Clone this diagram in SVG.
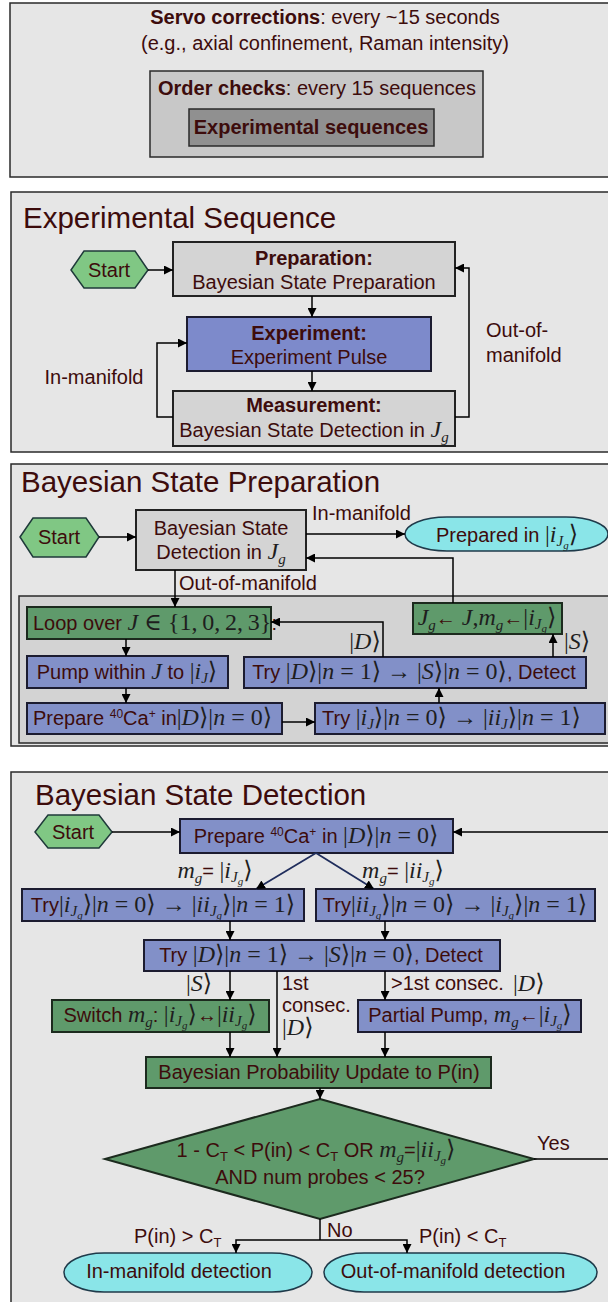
<svg xmlns="http://www.w3.org/2000/svg" width="608" height="1302" viewBox="0 0 608 1302">
<style>
.panel{fill:#e6e6e6;stroke:#2a2a2a;stroke-width:1.5}
.inner{fill:#d3d3d3;stroke:#2a2a2a;stroke-width:1.5}
.gray{fill:#d4d4d4;stroke:#222;stroke-width:2}
.blue{fill:#8290c8;stroke:#1c1c30;stroke-width:2}
.blue2{fill:#7d8acb;stroke:#1c1c30;stroke-width:2}
.green{fill:#5f9a6b;stroke:#1c2a1e;stroke-width:2}
.start{fill:#80c784;stroke:#1f3a3a;stroke-width:1.5}
.cyan{fill:#8ae5e8;stroke:#1f3a4a;stroke-width:1.5}
.t{font-family:"Liberation Sans",Arial,sans-serif;font-size:20px;fill:#3d0c0c}
.ttl{font-family:"Liberation Sans",Arial,sans-serif;font-size:29.5px;fill:#3d0c0c}
.b{font-weight:bold}
.m{font-family:"Liberation Serif","DejaVu Serif",serif;font-style:italic;font-size:24px;fill:#1e1e1e}
.mu{font-family:"Liberation Serif","DejaVu Serif",serif;font-style:normal;font-size:24px;fill:#1e1e1e}
.s1{font-size:15px}
.s2{font-size:11px}
.sup{font-size:12px}
.c{stroke:#000;stroke-width:1.5;fill:none}
.d{stroke:#1f2d5c;stroke-width:1.8;fill:none}
</style>
<defs>
<marker id="ah" viewBox="0 0 10 10" refX="10" refY="5" markerWidth="9" markerHeight="9" markerUnits="userSpaceOnUse" orient="auto"><path d="M0,0 L10,5 L0,10 z" fill="#000"/></marker>
</defs>

<!-- Panel 1 -->
<g id="panel-servo">
<rect class="panel" x="10" y="3" width="620" height="174"/>
<text class="t" x="325" y="24" text-anchor="middle"><tspan class="b">Servo corrections</tspan>: every ~15 seconds</text>
<text class="t" x="325" y="50" text-anchor="middle">(e.g., axial confinement, Raman intensity)</text>
</g>
<g id="panel-order">
<rect x="150" y="71" width="333" height="86" fill="#c8c8c8" stroke="#2a2a2a" stroke-width="1.5"/>
<text class="t" x="317" y="95" text-anchor="middle"><tspan class="b">Order checks</tspan>: every 15 sequences</text>
</g>
<g id="node-expseq">
<rect x="189" y="109" width="245" height="37" fill="#909090" stroke="#2a2a2a" stroke-width="1.5"/>
<text class="t b" x="311" y="134" text-anchor="middle">Experimental sequences</text>
</g>

<!-- Panel 2 -->
<g id="panel-expseq">
<rect class="panel" x="11" y="192" width="620" height="260"/>
<text class="ttl" x="23" y="228">Experimental Sequence</text>
</g>
<g id="es-start">
<polygon class="start" points="71,270 84,251 135,251 148,270 135,288 84,288"/>
<text class="t" x="109" y="277" text-anchor="middle">Start</text>
</g>
<g id="es-prep">
<rect class="gray" x="173" y="242" width="282" height="54"/>
<text class="t b" x="314" y="265" text-anchor="middle">Preparation:</text>
<text class="t" x="314" y="289" text-anchor="middle">Bayesian State Preparation</text>
</g>
<g id="es-exp">
<rect class="blue2" x="187" y="317" width="244" height="54"/>
<text class="t b" x="309" y="340" text-anchor="middle">Experiment:</text>
<text class="t" x="309" y="364" text-anchor="middle">Experiment Pulse</text>
</g>
<g id="es-meas">
<rect class="gray" x="173" y="391" width="282" height="55"/>
<text class="t b" x="314" y="412" text-anchor="middle">Measurement:</text>
<text class="t" x="314" y="437" text-anchor="middle">Bayesian State Detection in <tspan class="m">J</tspan><tspan class="m s1" dy="5">g</tspan></text>
</g>

<!-- Panel 3 -->
<g id="panel-prep">
<rect class="panel" x="11" y="464" width="620" height="282"/>
<text class="ttl" x="21" y="492">Bayesian State Preparation</text>
<rect class="inner" x="19" y="596" width="610" height="147"/>
</g>
<g id="bp-start">
<polygon class="start" points="20,537 33,518 86,518 99,537 86,557 33,557"/>
<text class="t" x="59" y="544" text-anchor="middle">Start</text>
</g>
<g id="bp-detect">
<rect class="gray" x="136" y="510" width="170" height="60"/>
<text class="t" x="221" y="535" text-anchor="middle">Bayesian State</text>
<text class="t" x="221" y="559" text-anchor="middle">Detection in <tspan class="m">J</tspan><tspan class="m s1" dy="5">g</tspan></text>
</g>
<g id="bp-prepared">
<rect class="cyan" x="405" y="517" width="203" height="34" rx="42" ry="17"/>
<text class="t" x="507" y="542" text-anchor="middle">Prepared in <tspan class="mu">|</tspan><tspan class="m">i</tspan><tspan class="m s1" dy="4">J</tspan><tspan class="m s2" dy="3">g</tspan><tspan class="mu" dy="-7">⟩</tspan></text>
</g>
<g id="bp-loop">
<rect class="green" x="27" y="607" width="244" height="32"/>
<text class="t" x="33" y="630">Loop over  <tspan class="m">J</tspan><tspan class="mu"> ∈ {1,&#8201;0,&#8201;2,&#8201;3}</tspan>:</text>
</g>
<g id="bp-pump">
<rect class="blue" x="27" y="656" width="201" height="32"/>
<text class="t" x="127" y="679" text-anchor="middle">Pump within <tspan class="m">J</tspan> to <tspan class="mu">|</tspan><tspan class="m">i</tspan><tspan class="m s1" dy="4">J</tspan><tspan class="mu" dy="-4">⟩</tspan></text>
</g>
<g id="bp-prepare">
<rect class="blue" x="27" y="703" width="255" height="31"/>
<text class="t" x="33" y="725">Prepare <tspan class="sup" dy="-7">40</tspan><tspan dy="7">Ca</tspan><tspan class="sup" dy="-7">+</tspan><tspan dy="7"> in</tspan><tspan class="mu">|</tspan><tspan class="m">D</tspan><tspan class="mu">⟩|</tspan><tspan class="m">n</tspan><tspan class="mu"> = 0⟩</tspan></text>
</g>
<g id="bp-tryi">
<rect class="blue" x="315" y="703" width="290" height="31"/>
<text class="t" x="322" y="725">Try  <tspan class="mu">|</tspan><tspan class="m">i</tspan><tspan class="m s1" dy="4">J</tspan><tspan class="mu" dy="-4">⟩|</tspan><tspan class="m">n</tspan><tspan class="mu"> = 0⟩ → |</tspan><tspan class="m">ii</tspan><tspan class="m s1" dy="4">J</tspan><tspan class="mu" dy="-4">⟩|</tspan><tspan class="m">n</tspan><tspan class="mu"> = 1⟩</tspan></text>
</g>
<g id="bp-trydetect">
<rect class="blue" x="244" y="657" width="342" height="31"/>
<text class="t" x="414" y="679" text-anchor="middle">Try <tspan class="mu">|</tspan><tspan class="m">D</tspan><tspan class="mu">⟩|</tspan><tspan class="m">n</tspan><tspan class="mu"> = 1⟩ → |</tspan><tspan class="m">S</tspan><tspan class="mu">⟩|</tspan><tspan class="m">n</tspan><tspan class="mu"> = 0⟩</tspan>, Detect</text>
</g>
<g id="bp-assign">
<rect class="green" x="413" y="603" width="149" height="31"/>
<text class="t" x="487" y="625" text-anchor="middle"><tspan class="m">J</tspan><tspan class="m s1" dy="5">g</tspan><tspan class="b" dy="-5">←</tspan><tspan class="m"> J</tspan><tspan class="mu">,</tspan><tspan class="m">m</tspan><tspan class="m s1" dy="5">g</tspan><tspan class="b" dy="-5">←</tspan><tspan class="mu">|</tspan><tspan class="m">i</tspan><tspan class="m s1" dy="4">J</tspan><tspan class="m s2" dy="3">g</tspan><tspan class="mu" dy="-7">⟩</tspan></text>
</g>

<!-- Panel 4 -->
<g id="panel-detect">
<rect class="panel" x="11" y="772" width="620" height="545"/>
<text class="ttl" x="35" y="805">Bayesian State Detection</text>
</g>
<g id="bd-start">
<polygon class="start" points="35,832 48,815 99,815 112,832 99,848 48,848"/>
<text class="t" x="73" y="839" text-anchor="middle">Start</text>
</g>
<g id="bd-prepare">
<rect class="blue" x="180" y="819" width="273" height="34"/>
<text class="t" x="316" y="843" text-anchor="middle">Prepare <tspan class="sup" dy="-7">40</tspan><tspan dy="7">Ca</tspan><tspan class="sup" dy="-7">+</tspan><tspan dy="7"> in </tspan><tspan class="mu">|</tspan><tspan class="m">D</tspan><tspan class="mu">⟩|</tspan><tspan class="m">n</tspan><tspan class="mu"> = 0⟩</tspan></text>
</g>
<g id="bd-tryleft">
<rect class="blue" x="22" y="889" width="282" height="32"/>
<text class="t" x="163" y="912" text-anchor="middle">Try<tspan class="mu">|</tspan><tspan class="m">i</tspan><tspan class="m s1" dy="4">J</tspan><tspan class="m s2" dy="3">g</tspan><tspan class="mu" dy="-7">⟩|</tspan><tspan class="m">n</tspan><tspan class="mu"> = 0⟩ → |</tspan><tspan class="m">ii</tspan><tspan class="m s1" dy="4">J</tspan><tspan class="m s2" dy="3">g</tspan><tspan class="mu" dy="-7">⟩|</tspan><tspan class="m">n</tspan><tspan class="mu"> = 1⟩</tspan></text>
</g>
<g id="bd-tryright">
<rect class="blue" x="316" y="889" width="279" height="32"/>
<text class="t" x="455" y="912" text-anchor="middle">Try<tspan class="mu">|</tspan><tspan class="m">ii</tspan><tspan class="m s1" dy="4">J</tspan><tspan class="m s2" dy="3">g</tspan><tspan class="mu" dy="-7">⟩|</tspan><tspan class="m">n</tspan><tspan class="mu"> = 0⟩ → |</tspan><tspan class="m">i</tspan><tspan class="m s1" dy="4">J</tspan><tspan class="m s2" dy="3">g</tspan><tspan class="mu" dy="-7">⟩|</tspan><tspan class="m">n</tspan><tspan class="mu"> = 1⟩</tspan></text>
</g>
<g id="bd-trydetect">
<rect class="blue" x="144" y="940" width="356" height="31"/>
<text class="t" x="321" y="962" text-anchor="middle">Try  <tspan class="mu">|</tspan><tspan class="m">D</tspan><tspan class="mu">⟩|</tspan><tspan class="m">n</tspan><tspan class="mu"> = 1⟩ → |</tspan><tspan class="m">S</tspan><tspan class="mu">⟩|</tspan><tspan class="m">n</tspan><tspan class="mu"> = 0⟩</tspan>, Detect</text>
</g>
<g id="bd-switch">
<rect class="green" x="52" y="1000" width="217" height="32"/>
<text class="t" x="160" y="1022" text-anchor="middle">Switch <tspan class="m">m</tspan><tspan class="m s1" dy="5">g</tspan><tspan dy="-5">: </tspan><tspan class="mu">|</tspan><tspan class="m">i</tspan><tspan class="m s1" dy="4">J</tspan><tspan class="m s2" dy="3">g</tspan><tspan class="mu" dy="-7">⟩</tspan><tspan class="b">↔</tspan><tspan class="mu">|</tspan><tspan class="m">ii</tspan><tspan class="m s1" dy="4">J</tspan><tspan class="m s2" dy="3">g</tspan><tspan class="mu" dy="-7">⟩</tspan></text>
</g>
<g id="bd-partial">
<rect class="blue" x="358" y="1000" width="223" height="32"/>
<text class="t" x="470" y="1022" text-anchor="middle">Partial Pump, <tspan class="m">m</tspan><tspan class="m s1" dy="5">g</tspan><tspan class="b" dy="-5">←</tspan><tspan class="mu">|</tspan><tspan class="m">i</tspan><tspan class="m s1" dy="4">J</tspan><tspan class="m s2" dy="3">g</tspan><tspan class="mu" dy="-7">⟩</tspan></text>
</g>
<g id="bd-update">
<rect class="green" x="146" y="1057" width="345" height="31"/>
<text class="t" x="319" y="1079" text-anchor="middle">Bayesian Probability Update to P(in)</text>
</g>
<g id="bd-decision">
<polygon class="green" points="320,1099 534,1159 320,1219 105,1159"/>
<text class="t" x="316" y="1157" text-anchor="middle">1 - C<tspan font-size="13" dy="4">T</tspan><tspan dy="-4"> &lt; P(in) &lt; C</tspan><tspan font-size="13" dy="4">T</tspan><tspan dy="-4"> OR  </tspan><tspan class="m">m</tspan><tspan class="m s1" dy="5">g</tspan><tspan dy="-5">=</tspan><tspan class="mu">|</tspan><tspan class="m">ii</tspan><tspan class="m s1" dy="4">J</tspan><tspan class="m s2" dy="3">g</tspan><tspan class="mu" dy="-7">⟩</tspan></text>
<text class="t" x="320" y="1184" text-anchor="middle">AND num probes &lt; 25?</text>
</g>
<g id="bd-in">
<rect class="cyan" x="64" y="1253" width="248" height="39" rx="40" ry="19.5"/>
<text class="t" x="179" y="1278" text-anchor="middle">In-manifold detection</text>
</g>
<g id="bd-out">
<rect class="cyan" x="324" y="1253" width="273" height="39" rx="40" ry="19.5"/>
<text class="t" x="453" y="1278" text-anchor="middle">Out-of-manifold detection</text>
</g>

<!-- Connectors -->
<g id="connectors">
<line class="c" x1="148" y1="270" x2="173" y2="270" marker-end="url(#ah)"/>
<line class="c" x1="312" y1="296" x2="312" y2="317" marker-end="url(#ah)"/>
<line class="c" x1="312" y1="371" x2="312" y2="391" marker-end="url(#ah)"/>
<polyline class="c" points="173,417 157,417 157,343 187,343" marker-end="url(#ah)"/>
<polyline class="c" points="455,417 469,417 469,268 455,268" marker-end="url(#ah)"/>

<line class="c" x1="99" y1="537" x2="136" y2="537" marker-end="url(#ah)"/>
<line class="c" x1="306" y1="534" x2="405" y2="534" marker-end="url(#ah)"/>
<polyline class="c" points="453,603 453,558 306,558" marker-end="url(#ah)"/>
<line class="c" x1="175" y1="570" x2="175" y2="607" marker-end="url(#ah)"/>
<line class="c" x1="126" y1="639" x2="126" y2="656" marker-end="url(#ah)"/>
<line class="c" x1="126" y1="688" x2="126" y2="703" marker-end="url(#ah)"/>
<line class="c" x1="282" y1="722" x2="315" y2="722" marker-end="url(#ah)"/>
<line class="c" x1="439" y1="703" x2="439" y2="688" marker-end="url(#ah)"/>
<polyline class="c" points="383,657 383,622 271,622" marker-end="url(#ah)"/>
<line class="c" x1="553" y1="657" x2="553" y2="634" marker-end="url(#ah)"/>

<line class="c" x1="112" y1="832" x2="180" y2="832" marker-end="url(#ah)"/>
<line class="c" x1="620" y1="832" x2="453" y2="832" marker-end="url(#ah)"/>
<line class="d" x1="316" y1="853" x2="256" y2="889" marker-end="url(#ah)"/>
<line class="d" x1="316" y1="853" x2="374" y2="889" marker-end="url(#ah)"/>
<line class="c" x1="230" y1="921" x2="230" y2="940" marker-end="url(#ah)"/>
<line class="c" x1="385" y1="921" x2="385" y2="940" marker-end="url(#ah)"/>
<line class="c" x1="230" y1="971" x2="230" y2="1000" marker-end="url(#ah)"/>
<line class="c" x1="277" y1="971" x2="277" y2="1057" marker-end="url(#ah)"/>
<line class="c" x1="385" y1="971" x2="385" y2="1000" marker-end="url(#ah)"/>
<line class="c" x1="230" y1="1032" x2="230" y2="1057" marker-end="url(#ah)"/>
<line class="c" x1="385" y1="1032" x2="385" y2="1057" marker-end="url(#ah)"/>
<line class="c" x1="320" y1="1088" x2="320" y2="1099" marker-end="url(#ah)"/>
<line class="c" x1="534" y1="1159" x2="620" y2="1159"/>
<polyline class="c" points="320,1219 320,1240"/>
<polyline class="c" points="320,1240 236,1240 236,1253" marker-end="url(#ah)"/>
<polyline class="c" points="320,1240 407,1240 407,1253" marker-end="url(#ah)"/>
</g>

<!-- Connector labels -->
<g id="labels">
<text class="t" x="94" y="384" text-anchor="middle">In-manifold</text>
<text class="t" x="486" y="337">Out-of-</text>
<text class="t" x="486" y="362">manifold</text>
<text class="t" x="312" y="520">In-manifold</text>
<text class="t" x="179" y="590">Out-of-manifold</text>
<text class="mu" x="365" y="649" text-anchor="middle">|<tspan class="m">D</tspan>⟩</text>
<text class="mu" x="564" y="649">|<tspan class="m">S</tspan>⟩</text>
<text class="t" x="215" y="878" text-anchor="middle"><tspan class="m">m</tspan><tspan class="m s1" dy="5">g</tspan><tspan dy="-5">= </tspan><tspan class="mu">|</tspan><tspan class="m">i</tspan><tspan class="m s1" dy="4">J</tspan><tspan class="m s2" dy="3">g</tspan><tspan class="mu" dy="-7">⟩</tspan></text>
<text class="t" x="403" y="878" text-anchor="middle"><tspan class="m">m</tspan><tspan class="m s1" dy="5">g</tspan><tspan dy="-5">= </tspan><tspan class="mu">|</tspan><tspan class="m">ii</tspan><tspan class="m s1" dy="4">J</tspan><tspan class="m s2" dy="3">g</tspan><tspan class="mu" dy="-7">⟩</tspan></text>
<text class="mu" x="199" y="991" text-anchor="middle">|<tspan class="m">S</tspan>⟩</text>
<text class="t" x="282" y="990">1st</text>
<text class="t" x="282" y="1012">consec.</text>
<text class="mu" x="282" y="1035">|<tspan class="m">D</tspan>⟩</text>
<text class="t" x="391" y="990">&gt;1st consec.</text>
<text class="mu" x="513" y="991">|<tspan class="m">D</tspan>⟩</text>
<text class="t" x="537" y="1150">Yes</text>
<text class="t" x="327" y="1237">No</text>
<text class="t" x="134" y="1243">P(in) &gt; C<tspan font-size="13" dy="4">T</tspan></text>
<text class="t" x="419" y="1243">P(in) &lt; C<tspan font-size="13" dy="4">T</tspan></text>
</g>
</svg>
